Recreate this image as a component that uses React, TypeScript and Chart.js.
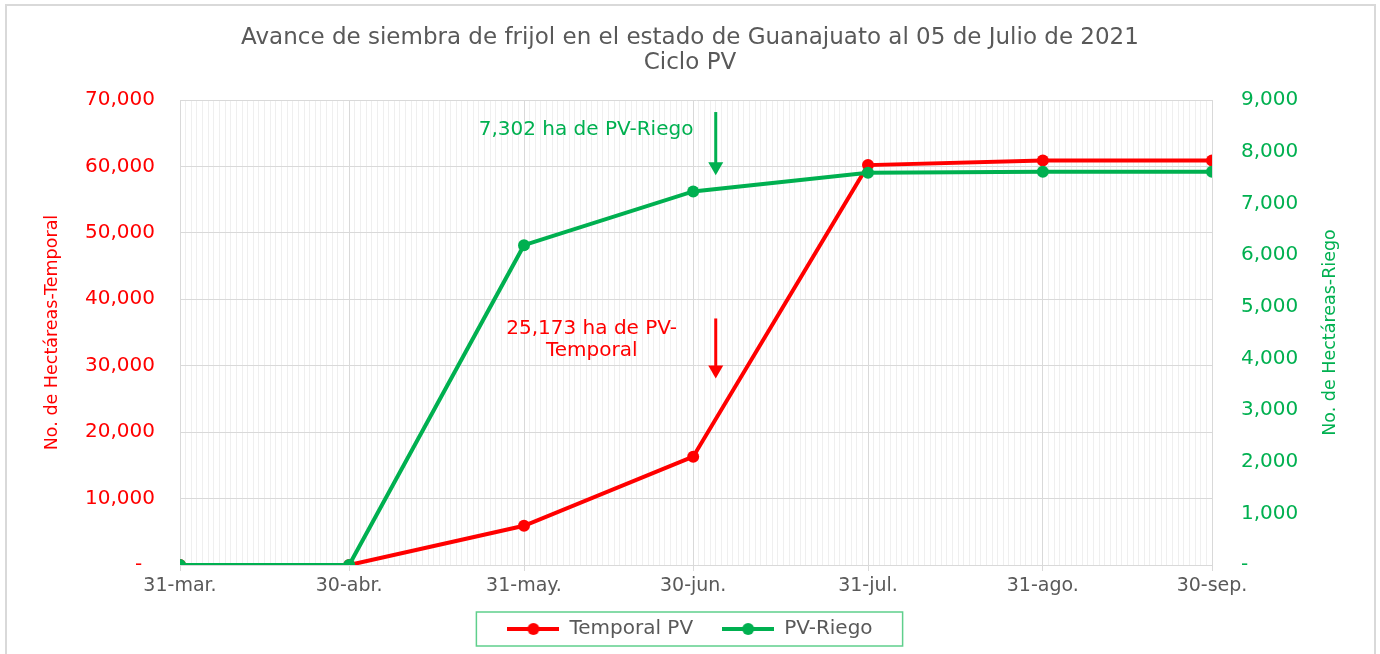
import { useEffect, useRef } from 'react';
import { Chart, registerables } from 'chart.js';

Chart.register(...registerables);

const TITLE_LINES = [
  'Avance de siembra de frijol en el estado de Guanajuato al 05 de Julio de 2021',
  'Ciclo PV',
];
const DATES = ['2021-03-31', '2021-04-30', '2021-05-31', '2021-06-30', '2021-07-31', '2021-08-31', '2021-09-30'];
const DATE_LABELS = ['31-mar.', '30-abr.', '31-may.', '30-jun.', '31-jul.', '31-ago.', '30-sep.'];
const TEMPORAL_PV = [0, 0, 5900, 16300, 60200, 60900, 60900];
const PV_RIEGO = [0, 0, 6190, 7230, 7590, 7610, 7610];
const SERIES_NAMES = ['Temporal PV', 'PV-Riego'];
const LEFT_AXIS_TITLE = 'No. de Hectáreas-Temporal';
const RIGHT_AXIS_TITLE = 'No. de Hectáreas-Riego';

// annotations (data coordinates)
const ARROW_DATE = '2021-07-04';
const NOTE_RIEGO_TEXT = ['7,302 ha de PV-Riego'];
const NOTE_RIEGO_TEXT_POS = ['2021-06-11', 8418];
const NOTE_RIEGO_ARROW = [8767, 7545];
const NOTE_TEMPORAL_TEXT = ['25,173 ha de PV-', 'Temporal'];
const NOTE_TEMPORAL_TEXT_POS = ['2021-06-12', 33944];
const NOTE_TEMPORAL_ARROW = [37112, 28060];

const RED = '#FF0000';
const GREEN = '#00B050';
const GRAY = '#595959';
const FONT = 'DejaVu Sans';

const dayIndex = (d: string) => Math.round((Date.parse(d) - Date.parse(DATES[0])) / 86400000);
const MONTH_TICKS = new Map<number, string>(DATES.map((d, i) => [dayIndex(d), DATE_LABELS[i]]));

function makeLegendMarker(color: string) {
  const c = document.createElement('canvas');
  c.width = 52;
  c.height = 14;
  const g = c.getContext('2d')!;
  g.strokeStyle = color;
  g.lineWidth = 4;
  g.beginPath();
  g.moveTo(0, 7);
  g.lineTo(52, 7);
  g.stroke();
  g.fillStyle = color;
  g.beginPath();
  g.arc(26, 7, 6, 0, Math.PI * 2);
  g.fill();
  return c;
}

const decorPlugin = {
  id: 'decor',
  beforeDraw(chart: any) {
    const { ctx } = chart;
    ctx.save();
    ctx.strokeStyle = '#d9d9d9';
    ctx.lineWidth = 2;
    ctx.strokeRect(6, 5, 1369, 700);
    ctx.restore();
  },
  afterDraw(chart: any) {
    const { ctx, scales } = chart;
    const { x, y, y1 } = scales;
    ctx.save();
    // right axis title
    ctx.translate(y1.right - 50, (y1.top + y1.bottom) / 2);
    ctx.rotate(-Math.PI / 2);
    ctx.fillStyle = GREEN;
    ctx.font = `17.5px "${FONT}"`;
    ctx.textAlign = 'center';
    ctx.textBaseline = 'middle';
    ctx.fillText(RIGHT_AXIS_TITLE, 0, 0);
    ctx.restore();

    // legend border
    const hb = chart.legend?.legendHitBoxes || [];
    if (hb.length) {
      const minL = Math.min(...hb.map((b: any) => b.left));
      const maxR = Math.max(...hb.map((b: any) => b.left + b.width));
      const cy = hb[0].top + hb[0].height / 2;
      ctx.save();
      ctx.strokeStyle = '#5fcf8c';
      ctx.lineWidth = 1.5;
      ctx.strokeRect(minL - 31, cy - 17, maxR - minL + 61, 34);
      ctx.restore();
    }

    // annotations
    const ax = x.getPixelForValue(dayIndex(ARROW_DATE));
    const drawArrow = (px: number, top: number, tip: number, color: string) => {
      ctx.save();
      ctx.strokeStyle = color;
      ctx.fillStyle = color;
      ctx.lineWidth = 3;
      ctx.beginPath();
      ctx.moveTo(px, top);
      ctx.lineTo(px, tip - 10);
      ctx.stroke();
      ctx.beginPath();
      ctx.moveTo(px - 7.5, tip - 13);
      ctx.lineTo(px + 7.5, tip - 13);
      ctx.lineTo(px, tip);
      ctx.closePath();
      ctx.fill();
      ctx.restore();
    };
    drawArrow(ax, y1.getPixelForValue(NOTE_RIEGO_ARROW[0]), y1.getPixelForValue(NOTE_RIEGO_ARROW[1]), GREEN);
    drawArrow(ax, y.getPixelForValue(NOTE_TEMPORAL_ARROW[0]), y.getPixelForValue(NOTE_TEMPORAL_ARROW[1]), RED);

    const drawText = (lines: string[], pos: any[], scale: any, color: string) => {
      ctx.save();
      ctx.fillStyle = color;
      ctx.font = `20px "${FONT}"`;
      ctx.textAlign = 'center';
      ctx.textBaseline = 'middle';
      const px = x.getPixelForValue(dayIndex(pos[0]));
      const py = scale.getPixelForValue(pos[1]);
      const lh = 22;
      lines.forEach((t, i) => ctx.fillText(t, px, py + (i - (lines.length - 1) / 2) * lh));
      ctx.restore();
    };
    drawText(NOTE_RIEGO_TEXT, NOTE_RIEGO_TEXT_POS, y1, GREEN);
    drawText(NOTE_TEMPORAL_TEXT, NOTE_TEMPORAL_TEXT_POS, y, RED);
  },
};

export default function App() {
  const ref = useRef<HTMLCanvasElement>(null);
  useEffect(() => {
    document.body.style.margin = '0';
    const markers = [makeLegendMarker(RED), makeLegendMarker(GREEN)];
    const chart = new Chart(ref.current!, {
      type: 'line',
      data: {
        datasets: [
          {
            label: SERIES_NAMES[0],
            data: DATES.map((d, i) => ({ x: dayIndex(d), y: TEMPORAL_PV[i] })),
            borderColor: RED,
            backgroundColor: RED,
            borderWidth: 4,
            pointRadius: 6,
            pointBorderWidth: 0,
            pointBackgroundColor: RED,
            yAxisID: 'y',
            order: 1,
          },
          {
            label: SERIES_NAMES[1],
            data: DATES.map((d, i) => ({ x: dayIndex(d), y: PV_RIEGO[i] })),
            borderColor: GREEN,
            backgroundColor: GREEN,
            borderWidth: 4,
            pointRadius: 6,
            pointBorderWidth: 0,
            pointBackgroundColor: GREEN,
            yAxisID: 'y1',
            order: 0,
          },
        ],
      },
      options: {
        responsive: false,
        animation: false,
        layout: { padding: { left: 0, right: 0, top: 0, bottom: 5 } },
        plugins: {
          title: {
            display: true,
            text: TITLE_LINES,
            color: GRAY,
            font: { family: FONT, size: 23, weight: 'normal', lineHeight: '25px' },
            padding: { top: 26, bottom: 24 },
          },
          legend: {
            display: true,
            position: 'bottom',
            labels: {
              color: GRAY,
              font: { family: FONT, size: 20 },
              usePointStyle: true,
              pointStyleWidth: 52,
              padding: 10,
              generateLabels: () =>
                SERIES_NAMES.map((n, i) => ({
                  text: i === 0 ? n + '   ' : n,
                  pointStyle: markers[i],
                  fillStyle: i === 0 ? RED : GREEN,
                  strokeStyle: i === 0 ? RED : GREEN,
                  fontColor: GRAY,
                  lineWidth: 0,
                  hidden: false,
                  datasetIndex: i,
                })),
            },
          },
          tooltip: { enabled: false },
        },
        scales: {
          x: {
            type: 'linear',
            min: 0,
            max: dayIndex(DATES[DATES.length - 1]),
            afterFit: (s: any) => {
              s.height = 44;
            },
            ticks: {
              stepSize: 1,
              maxTicksLimit: 1000,
              autoSkip: false,
              maxRotation: 0,
              minRotation: 0,
              padding: 4,
              color: GRAY,
              font: { family: FONT, size: 19 },
              callback: (v: any) => MONTH_TICKS.get(Number(v)) ?? '',
            },
            grid: {
              color: (c: any) => (c.tick && MONTH_TICKS.has(c.tick.value) ? '#d9d9d9' : '#efefef'),
              tickColor: (c: any) => (c.tick && MONTH_TICKS.has(c.tick.value) ? '#d9d9d9' : 'rgba(0,0,0,0)'),
              tickLength: 6,
              lineWidth: 1,
            },
            border: { color: '#d9d9d9' },
          },
          y: {
            position: 'left',
            min: 0,
            max: 70000,
            afterFit: (s: any) => {
              s.width = 180;
            },
            ticks: {
              stepSize: 10000,
              color: RED,
              padding: 25,
              font: { family: FONT, size: 20 },
              callback: (v: any) => (Number(v) === 0 ? '-  ' : Number(v).toLocaleString('en-US')),
            },
            grid: { color: '#d9d9d9', drawTicks: false },
            border: { color: '#d9d9d9' },
            title: {
              display: true,
              text: LEFT_AXIS_TITLE,
              color: RED,
              font: { family: FONT, size: 17.5 },
              padding: { top: 42, bottom: 0 },
            },
          },
          y1: {
            position: 'right',
            min: 0,
            max: 9000,
            afterFit: (s: any) => {
              s.width = 168;
            },
            ticks: {
              stepSize: 1000,
              color: GREEN,
              padding: 29,
              font: { family: FONT, size: 20 },
              callback: (v: any) => (Number(v) === 0 ? '-' : Number(v).toLocaleString('en-US')),
            },
            grid: { display: false, drawTicks: false },
            border: { display: false },
          },
        },
      },
      plugins: [decorPlugin],
    } as any);
    return () => chart.destroy();
  }, []);
  return (
    <div style={{ position: 'absolute', left: 0, top: 0, width: 1380, height: 654 }}>
      <canvas ref={ref} width={1380} height={654} />
    </div>
  );
}
